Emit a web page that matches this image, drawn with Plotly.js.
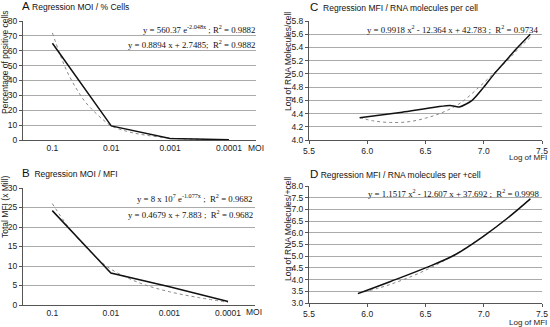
<!DOCTYPE html>
<html><head><meta charset="utf-8">
<script src="https://cdn.plot.ly/plotly-3.0.1.min.js"></script>
<style>
html,body{margin:0;padding:0;background:#fff}
#wrap{position:relative;width:550px;height:327px;overflow:hidden}
.p{position:absolute}
</style>
</head><body><div id="wrap">
<div id="pa" class="p" style="left:0;top:0"></div>
<div id="pb" class="p" style="left:0;top:163px"></div>
<div id="pc" class="p" style="left:275px;top:0"></div>
<div id="pd" class="p" style="left:275px;top:163px"></div>
</div>
<script>
// ---- data ----
const moiLabels = ['0.1', '0.01', '0.001', '0.0001'];
const moiIndex = [0, 1, 2, 3];
// Panel A: % positive cells
const pctCells = [65, 9.5, 1.0, 0.2];
const fitA_x = [0, 0.125, 0.25, 0.4, 0.55, 0.7, 0.85, 1, 1.25, 1.5, 2, 2.5, 3];
const fitA_y = [72, 58, 46, 35, 26, 19.5, 14, 9.5, 6, 3.8, 1.3, 0.5, 0.2];
// Panel B: total MFI (x Mill)
const totalMFI = [24.2, 8.2, 4.7, 0.9];
const fitB_x = [0, 0.25, 0.5, 0.75, 1, 1.5, 2, 2.5, 3];
const fitB_y = [26, 20.5, 16, 12.2, 9.2, 5.6, 3.4, 1.9, 0.7];
// Panel C: log MFI vs log RNA molecules / cell
const logMFI_C = [5.935, 6.3, 6.71, 6.79, 6.9, 7.0, 7.09, 7.18, 7.28, 7.4];
const logRNA_C = [4.335, 4.42, 4.52, 4.50, 4.60, 4.80, 5.00, 5.18, 5.38, 5.60];
const fitC_x = [5.935, 6.05, 6.2, 6.35, 6.5, 6.65, 6.8, 6.96, 7.08, 7.2, 7.31, 7.41];
const fitC_y = [4.34, 4.29, 4.265, 4.275, 4.33, 4.42, 4.56, 4.8, 5.0, 5.2, 5.4, 5.57];
// Panel D: log MFI vs log RNA molecules / +cell
const logMFI_D = [5.92, 6.2, 6.5, 6.75, 7.0, 7.2, 7.4];
const logRNA_D = [3.4, 3.92, 4.5, 5.05, 5.86, 6.61, 7.45];
const fitD_x = [5.92, 6.1, 6.3, 6.5, 6.7, 6.9, 7.1, 7.25, 7.4];
const fitD_y = [3.42, 3.64, 3.98, 4.4, 4.92, 5.53, 6.24, 6.82, 7.47];

// ---- styles ----
const tickFont = {family: 'Liberation Sans', size: 8.5, color: '#222'};
const smallFont = {family: 'Liberation Sans', size: 8, color: '#222'};
const eqFont = {family: 'Liberation Serif', size: 8.8, color: '#111'};
const titleFont = {family: 'Liberation Sans', size: 8.5, color: '#111'};
const solid = {color: '#111', width: 1.5};
const dotted = {color: '#888', width: 1, dash: 'dot', shape: 'spline'};
const big = s => '<span style="font-size:11.5px">' + s + '</span>';

// panel: div id, div origin (ox, oy), div size, plot-area edges in page pixels (integers)
function panel(id, ox, oy, w, h, L, R, T, B, traces, xaxis, yaxis, notes) {
  const ann = notes.map(n => Object.assign({
    xref: 'paper', yref: 'paper', x: (n.x - L) / (R - L), y: (B - n.y) / (B - T),
    text: n.t, showarrow: false, font: tickFont, xanchor: 'left', yanchor: 'middle'
  }, n.o || {}));
  const layout = {
    width: w, height: h, showlegend: false,
    margin: {l: L - ox, r: ox + w - R, t: T - oy, b: oy + h - B},
    xaxis: Object.assign({showline: true, linecolor: '#555', linewidth: 1, showgrid: false, zeroline: false, tickfont: tickFont}, xaxis),
    yaxis: Object.assign({showline: true, linecolor: '#555', linewidth: 1, showgrid: true, gridcolor: '#aaaaaa', gridwidth: 1,
      zeroline: false, ticks: 'outside', ticklen: 3, tickcolor: '#555', tickfont: tickFont}, yaxis),
    annotations: ann
  };
  Plotly.newPlot(id, traces, layout, {displayModeBar: false});
}

const catX = {tickmode: 'array', tickvals: moiIndex, ticktext: moiLabels, ticks: '', range: [-0.5, 3.46]};
const numX = {range: [5.5, 7.5], dtick: 0.5, tick0: 5.5, tickformat: '.1f', ticks: 'outside', ticklen: 3, tickcolor: '#555'};
const rot = {textangle: -90, xanchor: 'center', yanchor: 'middle'};

panel('pa', 0, 0, 275, 163, 23, 256, 21, 140,
  [{x: fitA_x, y: fitA_y, mode: 'lines', line: dotted},
   {x: moiIndex, y: pctCells, mode: 'lines', line: solid}],
  catX, {range: [0, 80], dtick: 10},
  [{x: 20, y: 6, t: big('A') + ' Regression MOI / % Cells', o: {font: titleFont}},
   {x: 5, y: 63, t: 'Percentage of positive cells', o: rot},
   {x: 246, y: 148, t: 'MOI'},
   {x: 257, y: 30, t: 'y = 560.37 e<sup>-2.048x</sup> ; R<sup>2</sup> = 0.9882', o: {xanchor: 'right', font: eqFont}},
   {x: 257, y: 44, t: 'y = 0.8894 x + 2.7485;  R<sup>2</sup> = 0.9882', o: {xanchor: 'right', font: eqFont}}]);

panel('pb', 0, 163, 275, 164, 23, 255, 188, 305,
  [{x: fitB_x, y: fitB_y, mode: 'lines', line: dotted},
   {x: moiIndex, y: totalMFI, mode: 'lines', line: solid}],
  catX, {range: [0, 30], dtick: 5},
  [{x: 20, y: 173, t: big('B') + '  Regression MOI / MFI', o: {font: titleFont}},
   {x: 5, y: 207, t: 'Total MFI (x Mill)', o: rot},
   {x: 244, y: 312, t: 'MOI'},
   {x: 255, y: 198, t: 'y = 8 x 10<sup>7</sup> e<sup>-1.077x</sup> ;  R<sup>2</sup> = 0.9682', o: {xanchor: 'right', font: eqFont}},
   {x: 255, y: 214, t: 'y = 0.4679 x + 7.883 ;  R<sup>2</sup> = 0.9682', o: {xanchor: 'right', font: eqFont}}]);

panel('pc', 275, 0, 275, 163, 309, 542, 21, 140,
  [{x: fitC_x, y: fitC_y, mode: 'lines', line: dotted},
   {x: logMFI_C, y: logRNA_C, mode: 'lines', line: Object.assign({shape: 'spline', smoothing: 0.7}, solid)}],
  numX, {range: [4.0, 5.8], dtick: 0.2, tick0: 4, tickformat: '.1f'},
  [{x: 308, y: 7, t: big('C') + '  Regression MFI / RNA molecules per cell', o: {font: titleFont}},
   {x: 288, y: 62, t: 'Log of RNA Molecules/cell', o: rot},
   {x: 549, y: 157.5, t: 'Log of MFI', o: {xanchor: 'right', font: smallFont}},
   {x: 540, y: 30, t: 'y = 0.9918 x<sup>2</sup> - 12.364 x + 42.783 ;  R<sup>2</sup> = 0.9734', o: {xanchor: 'right', font: eqFont}}]);

panel('pd', 275, 163, 275, 164, 309, 542, 186, 303,
  [{x: fitD_x, y: fitD_y, mode: 'lines', line: dotted},
   {x: logMFI_D, y: logRNA_D, mode: 'lines', line: Object.assign({shape: 'spline'}, solid)}],
  numX, {range: [3.0, 8.0], dtick: 0.5, tick0: 3, tickformat: '.1f'},
  [{x: 308, y: 174, t: big('D') + ' Regression MFI / RNA molecules per +cell', o: {font: titleFont}},
   {x: 288, y: 229, t: 'Log of RNA Molecules/+cell', o: rot},
   {x: 549, y: 322.5, t: 'Log of MFI', o: {xanchor: 'right', font: smallFont}},
   {x: 541, y: 193, t: 'y = 1.1517 x<sup>2</sup> - 12.607 x + 37.692 ;  R<sup>2</sup> = 0.9998', o: {xanchor: 'right', font: eqFont}}]);
</script>
</body></html>
